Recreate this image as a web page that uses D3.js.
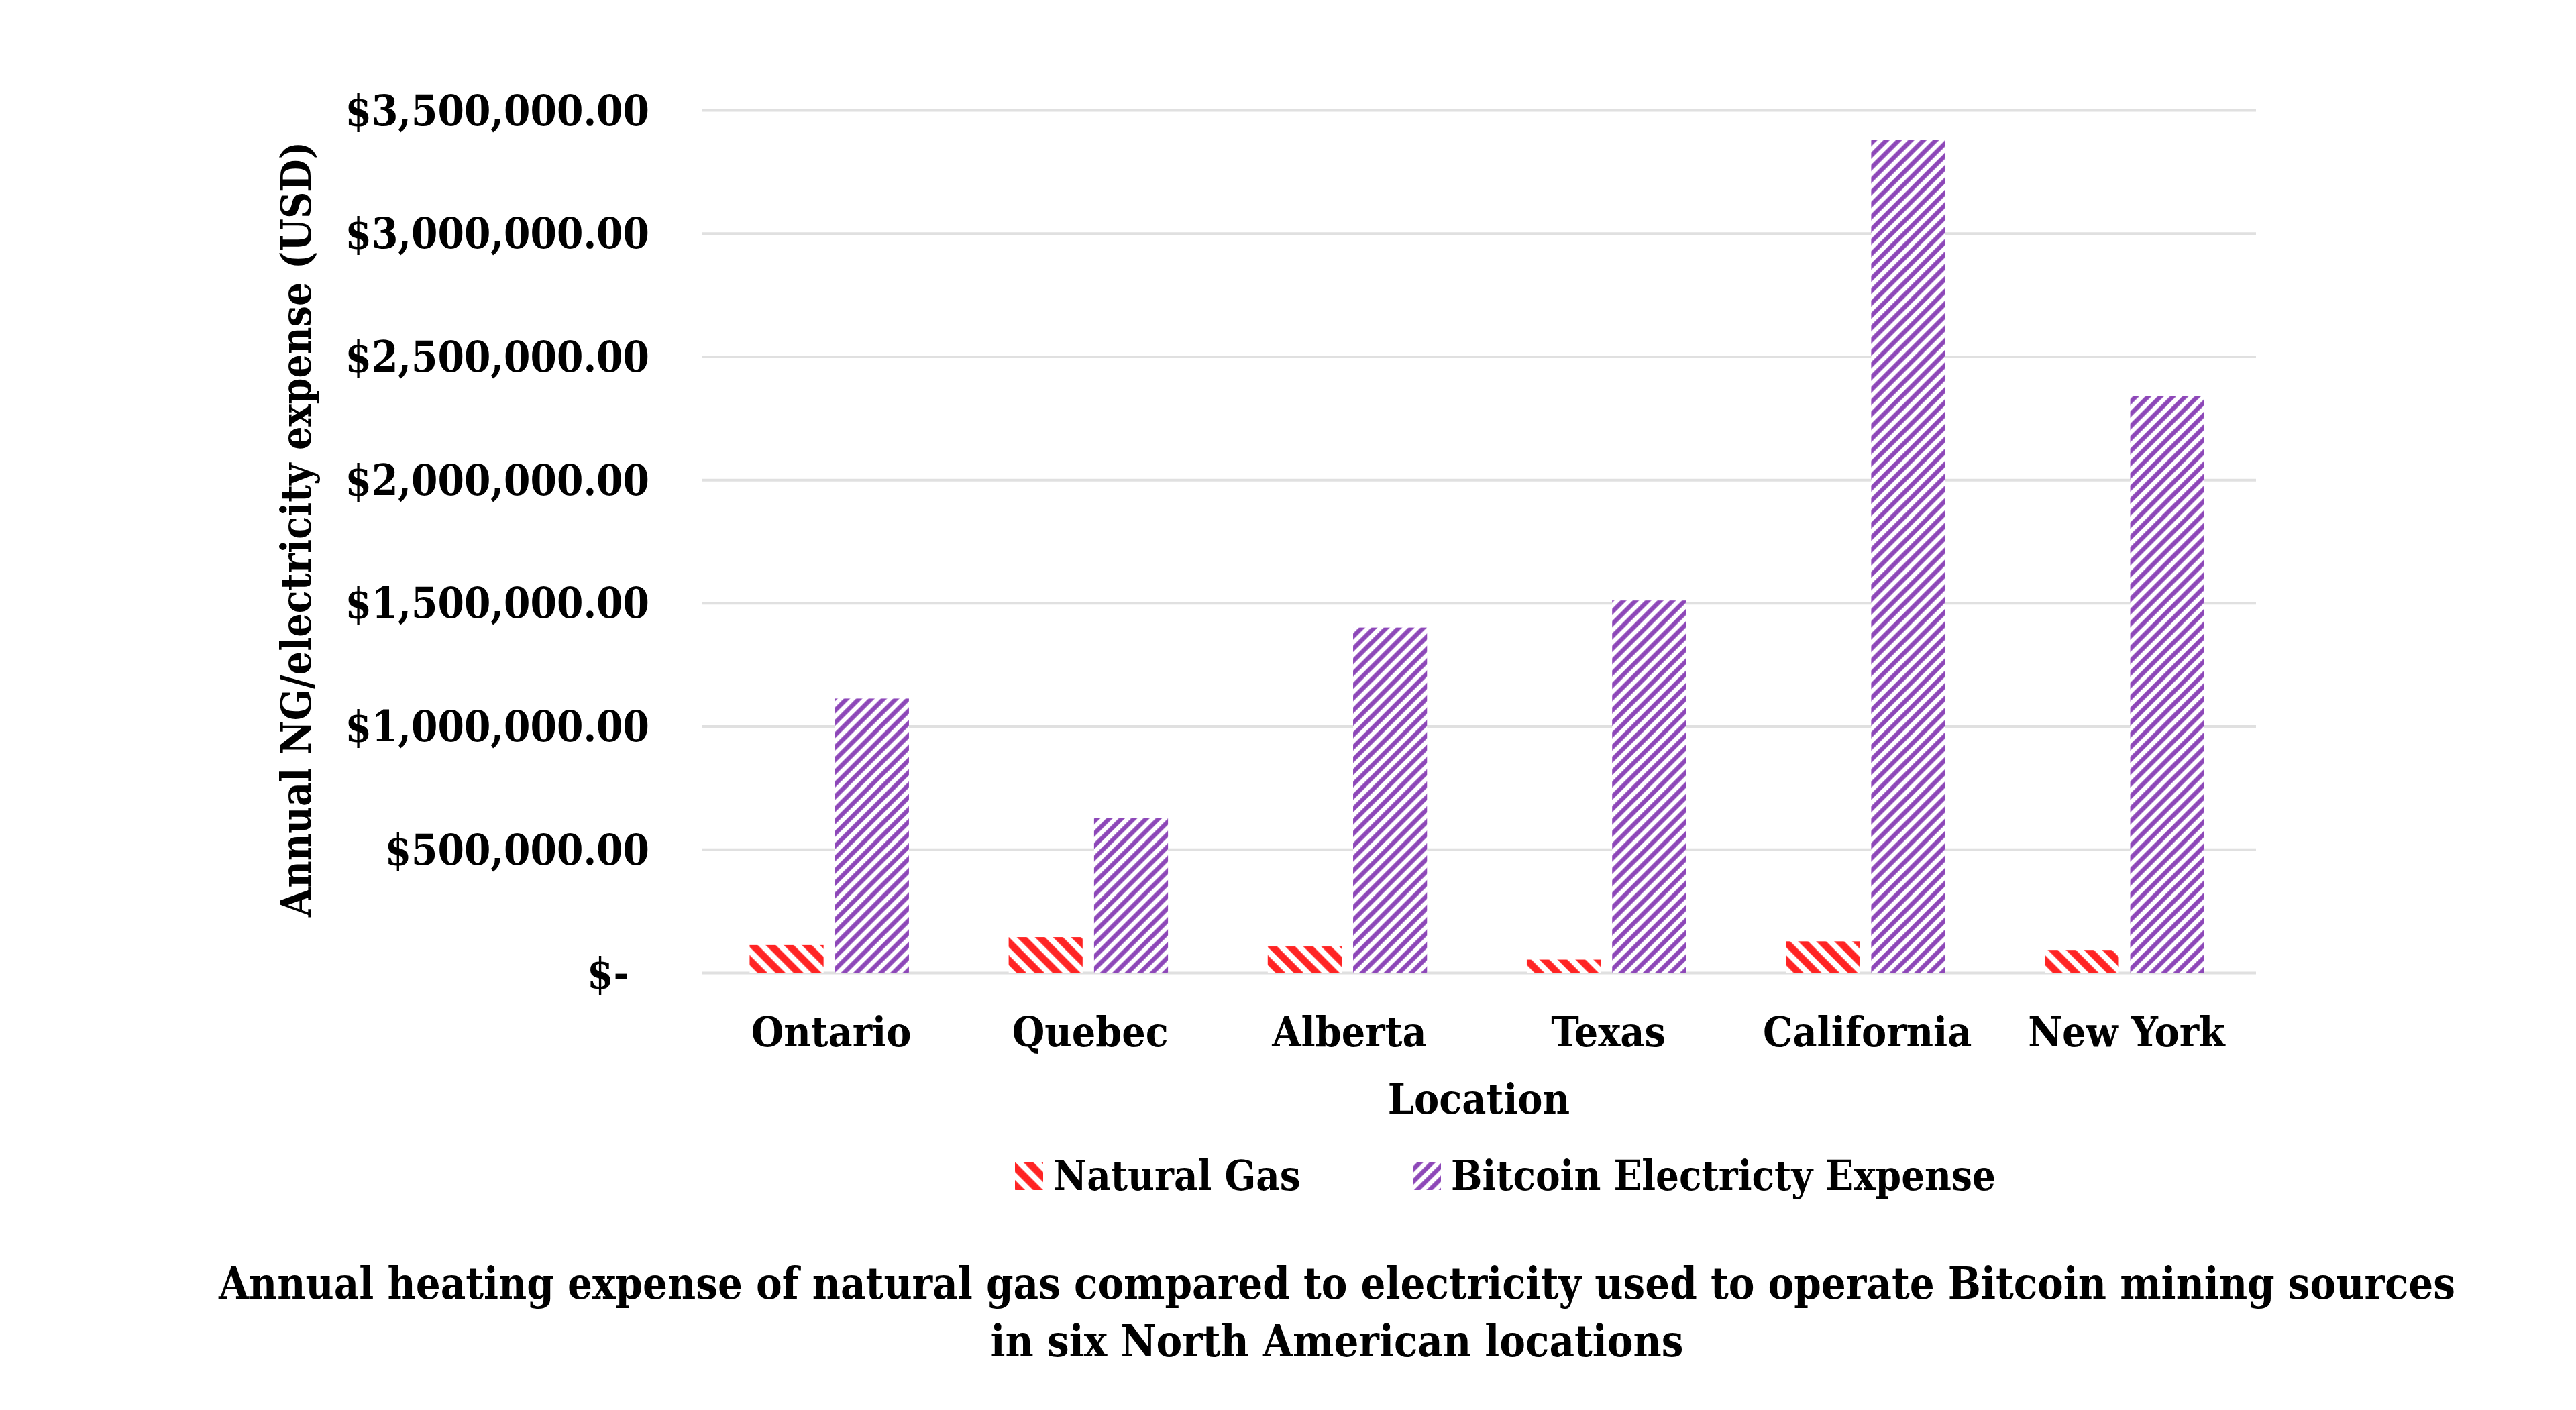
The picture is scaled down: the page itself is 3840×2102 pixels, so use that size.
<!DOCTYPE html>
<html>
<head>
<meta charset="utf-8">
<script src="https://cdn.jsdelivr.net/npm/d3@7"></script>
<style>
  html, body { margin: 0; padding: 0; background: #fff; overflow: hidden; }
  svg { display: block; }
  text { font-family: "DejaVu Serif Condensed", "DejaVu Serif", serif; font-weight: bold; fill: #000; }
</style>
</head>
<body>
<svg id="chart" width="3840" height="2102"></svg>
<script>
const locations = ['Ontario', 'Quebec', 'Alberta', 'Texas', 'California', 'New York'];
const naturalGas = [112000, 144000, 106000, 53000, 127000, 92000];
const bitcoinElectricity = [1112000, 627000, 1400000, 1510000, 3380000, 2340000];
const seriesNames = ['Natural Gas', 'Bitcoin Electricty Expense'];
const yTicks = [0, 500000, 1000000, 1500000, 2000000, 2500000, 3000000, 3500000];

const svg = d3.select('#chart');
const width = +svg.attr('width');
const height = +svg.attr('height');

const margin = {top: 164, right: 477, bottom: 652, left: 1046};
const innerWidth = width - margin.left - margin.right;
const innerHeight = height - margin.top - margin.bottom;

const colors = ['#ff2424', '#8d47b8'];
const fontFamily = '"DejaVu Serif Condensed", "DejaVu Serif", serif';

// hatch patterns
const defs = svg.append('defs');
const hatch = [
    {id: 'hatchNG', angle: -45, size: 19, stroke: 10.5},
    {id: 'hatchBTC', angle: 45, size: 13, stroke: 6.5}
];
hatch.forEach((h, i) => {
    const p = defs.append('pattern')
        .attr('id', h.id)
        .attr('patternUnits', 'userSpaceOnUse')
        .attr('width', h.size)
        .attr('height', h.size)
        .attr('patternTransform', 'rotate(' + h.angle + ')');
    p.append('rect').attr('width', h.size).attr('height', h.size).attr('fill', '#fff');
    p.append('line')
        .attr('x1', h.size / 2).attr('y1', 0)
        .attr('x2', h.size / 2).attr('y2', h.size)
        .attr('stroke', colors[i])
        .attr('stroke-width', h.stroke);
});

const g = svg.append('g').attr('transform', 'translate(' + margin.left + ',' + margin.top + ')');

const yScale = d3.scaleLinear()
    .domain([0, 3500000])
    .range([innerHeight, 0]);

const xScale = d3.scaleBand()
    .domain(locations)
    .range([0, innerWidth]);

const xInner = d3.scaleBand()
    .domain(seriesNames)
    .range([xScale.bandwidth() * 0.185, xScale.bandwidth() * 0.80])
    .paddingInner(0.134);

const money = d3.format('$,.2f');
const yAxis = d3.axisLeft(yScale)
    .tickValues(yTicks)
    .tickSize(-innerWidth)
    .tickPadding(78)
    .tickFormat(v => v === 0 ? '$-' : money(v));

const yG = g.append('g').call(yAxis)
    .attr('font-family', fontFamily)
    .attr('font-size', 63)
    .attr('font-weight', 'bold');
yG.select('.domain').remove();
yG.selectAll('.tick line').attr('stroke', '#e0e0e0').attr('stroke-width', 4);
yG.selectAll('.tick text')
    .attr('fill', '#000')
    .attr('dy', '0.35em');
yG.selectAll('.tick').filter(d => d === 0).select('text').attr('x', -108);

const rows = locations.map((loc, i) => ({loc, values: [naturalGas[i], bitcoinElectricity[i]]}));

const groups = g.selectAll('.grp')
    .data(rows)
    .enter()
    .append('g')
    .attr('transform', d => 'translate(' + xScale(d.loc) + ',0)');

groups.selectAll('rect')
    .data(d => d.values.map((v, i) => ({v, i, name: seriesNames[i]})))
    .enter()
    .append('rect')
    .attr('x', d => xInner(d.name))
    .attr('y', d => yScale(d.v))
    .attr('width', xInner.bandwidth())
    .attr('height', d => innerHeight - yScale(d.v))
    .attr('fill', d => 'url(#' + hatch[d.i].id + ')');

const xAxis = d3.axisBottom(xScale).tickSize(0).tickPadding(88);
const xG = g.append('g').attr('transform', 'translate(0,' + innerHeight + ')').call(xAxis)
    .attr('font-family', fontFamily)
    .attr('font-size', 62)
    .attr('font-weight', 'bold');
xG.select('.domain').remove();
xG.selectAll('.tick text')
    .attr('fill', '#000')
    .attr('dy', '0.35em');

// axis titles
g.append('text')
    .attr('x', innerWidth / 2)
    .attr('y', innerHeight + 188)
    .attr('dy', '0.35em')
    .attr('text-anchor', 'middle')
    .attr('font-size', 62)
    .text('Location');

svg.append('text')
    .attr('transform', 'translate(441,789) rotate(-90)')
    .attr('dy', '0.35em')
    .attr('text-anchor', 'middle')
    .attr('font-size', 62)
    .text('Annual NG/electricity expense (USD)');

// legend
const legendX = [1513, 2106];
const legend = svg.selectAll('.legend')
    .data(seriesNames)
    .enter()
    .append('g')
    .attr('transform', (d, i) => 'translate(' + legendX[i] + ',1753)');
legend.append('rect')
    .attr('x', 0).attr('y', -21)
    .attr('width', 42).attr('height', 42)
    .attr('fill', (d, i) => 'url(#' + hatch[i].id + ')');
legend.append('text')
    .attr('x', 57)
    .attr('dy', '0.35em')
    .attr('font-size', 61)
    .text(d => d);

// caption
const caption = ['Annual heating expense of natural gas compared to electricity used to operate Bitcoin mining sources',
    'in six North American locations'];
svg.selectAll('.caption')
    .data(caption)
    .enter()
    .append('text')
    .attr('x', 1993)
    .attr('y', (d, i) => 1913 + i * 86)
    .attr('dy', '0.35em')
    .attr('text-anchor', 'middle')
    .attr('font-size', 64.5)
    .text(d => d);
</script>
</body>
</html>
